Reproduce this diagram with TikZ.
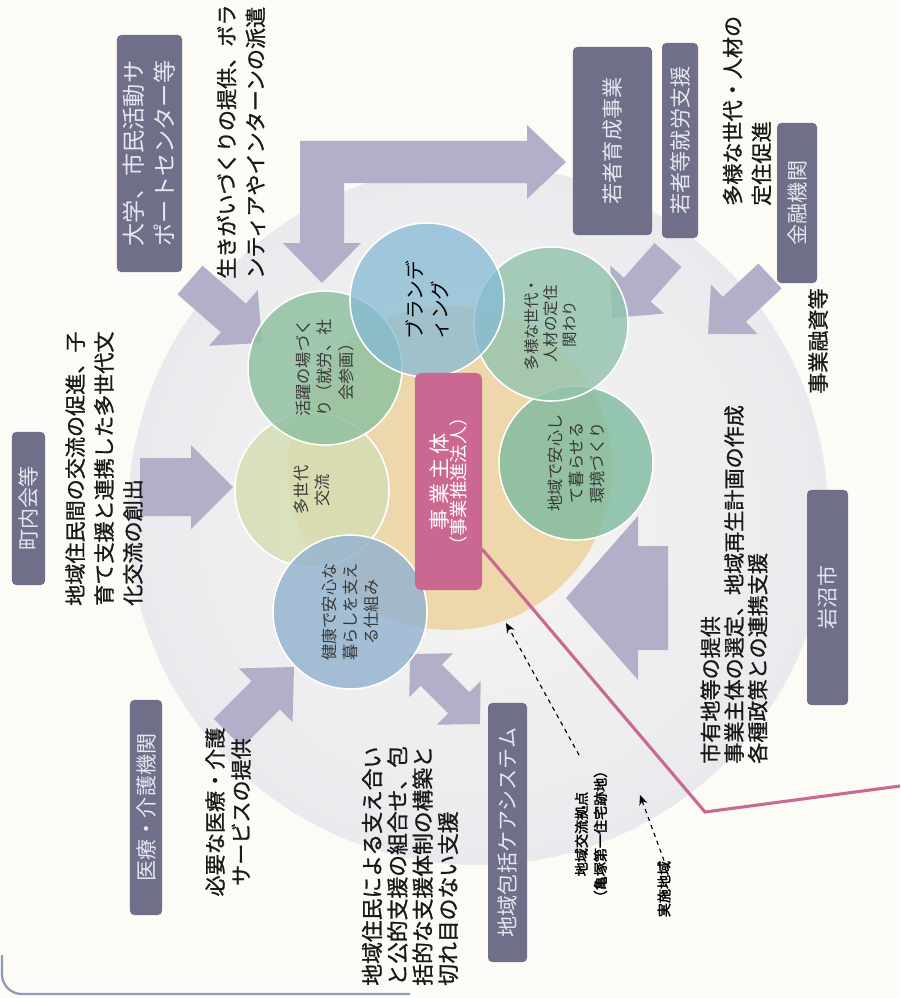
\documentclass[tikz,border=0pt]{standalone}
\usepackage{fontspec}
\setmainfont{Noto Sans CJK JP}
\newfontfamily\jpb{Noto Sans CJK JP}[FakeBold=1]
\newfontfamily\jpbb{Noto Sans CJK JP}[FakeBold=2.2]
\usetikzlibrary{arrows.meta,calc}
\definecolor{pagebg}{HTML}{FCFBF6}
\definecolor{haloin}{HTML}{F7F6F3}
\definecolor{haloout}{HTML}{EAE9ED}
\definecolor{boxc}{HTML}{6F6F8A}
\definecolor{boxtxt}{HTML}{E6E6EE}
\definecolor{arrowc}{HTML}{B2B0C8}
\definecolor{pinkc}{HTML}{CB6892}
\definecolor{beigec}{HTML}{EFD7AC}
\definecolor{cblue}{HTML}{86BAD4}
\definecolor{cgreenA}{HTML}{8EC0A0}
\definecolor{cgreenB}{HTML}{94C4AE}
\definecolor{cgreenC}{HTML}{80BCA0}
\definecolor{cyg}{HTML}{D5DEB2}
\definecolor{ckenko}{HTML}{93B3D0}
\definecolor{linec}{HTML}{C96890}
\definecolor{borderc}{HTML}{8B9BB8}
% block arrow: tail (#1,#2), tip (#3,#4), shaft half-width #5, head half-width #6, head length #7
\newcommand\blkarrow[7]{%
  \pgfmathsetmacro\AXdx{#3-(#1)}%
  \pgfmathsetmacro\AXdy{#4-(#2)}%
  \pgfmathsetmacro\AXl{veclen(\AXdx,\AXdy)}%
  \pgfmathsetmacro\AXux{\AXdx/\AXl}%
  \pgfmathsetmacro\AXuy{\AXdy/\AXl}%
  \pgfmathsetmacro\AXbx{#3-#7*\AXux}%
  \pgfmathsetmacro\AXby{#4-#7*\AXuy}%
  \fill[arrowc] ({#1-#5*\AXuy},{#2+#5*\AXux}) -- ({\AXbx-#5*\AXuy},{\AXby+#5*\AXux})
    -- ({\AXbx-#6*\AXuy},{\AXby+#6*\AXux}) -- (#3,#4)
    -- ({\AXbx+#6*\AXuy},{\AXby-#6*\AXux}) -- ({\AXbx+#5*\AXuy},{\AXby-#5*\AXux})
    -- ({#1+#5*\AXuy},{#2-#5*\AXux}) -- cycle;}
% double-headed block arrow
\newcommand\dblarrow[7]{%
  \pgfmathsetmacro\AXdx{#3-(#1)}%
  \pgfmathsetmacro\AXdy{#4-(#2)}%
  \pgfmathsetmacro\AXl{veclen(\AXdx,\AXdy)}%
  \pgfmathsetmacro\AXux{\AXdx/\AXl}%
  \pgfmathsetmacro\AXuy{\AXdy/\AXl}%
  \pgfmathsetmacro\AXax{#1+#7*\AXux}%
  \pgfmathsetmacro\AXay{#2+#7*\AXuy}%
  \pgfmathsetmacro\AXbx{#3-#7*\AXux}%
  \pgfmathsetmacro\AXby{#4-#7*\AXuy}%
  \fill[arrowc] (#1,#2) -- ({\AXax-#6*\AXuy},{\AXay+#6*\AXux}) -- ({\AXax-#5*\AXuy},{\AXay+#5*\AXux})
    -- ({\AXbx-#5*\AXuy},{\AXby+#5*\AXux}) -- ({\AXbx-#6*\AXuy},{\AXby+#6*\AXux}) -- (#3,#4)
    -- ({\AXbx+#6*\AXuy},{\AXby-#6*\AXux}) -- ({\AXbx+#5*\AXuy},{\AXby-#5*\AXux})
    -- ({\AXax+#5*\AXuy},{\AXay-#5*\AXux}) -- ({\AXax+#6*\AXuy},{\AXay-#6*\AXux}) -- cycle;}
\begin{document}
\begin{tikzpicture}[x=0.025cm,y=-0.025cm,
  lab/.style={rotate=90, inner sep=0, text=black!90, align=left, font=\jpb\fontsize{15}{20.5}\selectfont},
  dbox/.style={rotate=90, fill=boxc, rounded corners=3pt, inner sep=0, text=boxtxt, align=center, font=\fontsize{15}{19}\selectfont},
  circ/.style={circle, draw=white, line width=1.1pt, inner sep=0, minimum size=3.85cm, fill opacity=0.82, text opacity=1, rotate=90, align=center, text=black!78, font=\fontsize{11.5}{15}\selectfont},
  smallb/.style={rotate=90, inner sep=0, align=center, text=black, font=\jpbb\fontsize{10}{13.5}\selectfont},
  dasharr/.style={draw=black, line width=0.8pt, dashed, -{Stealth[length=7pt,width=6pt]}},
]
\fill[pagebg] (0,0) rectangle (900,998);
\useasboundingbox (0,0) rectangle (900,998);
% page edge
\draw[borderc, line width=1.6pt, rounded corners=14pt] (2,955) -- (2,994) -- (410,994);
% halo
\shade[inner color=haloin, outer color=haloout] (478,515) circle[radius=350];
% block arrows
\fill[arrowc] (322,283) -- (361,243) -- (344,243) -- (344,183) -- (527,183) -- (527,199) -- (566,162)
  -- (527,125) -- (527,141) -- (300,141) -- (300,243) -- (283,243) -- cycle;
\blkarrow{190}{280}{262}{343}{19}{37}{38}
\blkarrow{668}{255}{612}{318}{18}{36}{38}
\blkarrow{770}{276}{708}{334}{17}{34}{36}
\blkarrow{140}{487}{233}{487}{29}{42}{42}
\blkarrow{228}{733}{294}{667}{20}{38}{40}
\dblarrow{410}{654}{480}{724}{15}{31}{30}
\blkarrow{668}{598}{566}{598}{52}{82}{72}
% core
\fill[beigec] (450,468) circle[radius=162];
\node[circ, fill=cyg] (tasedai) at (312,490) {多世代\\交流};
\node[circ, fill=cgreenA] (katsu) at (325,368) {活躍の場づく\\り（就労、社\\会参画）};
\node[circ, fill=ckenko] (kenko) at (350,612) {健康で安心な\\暮らしを支え\\る仕組み};
\node[circ, fill=cgreenC] (anshin) at (576,463) {地域で安心し\\て暮らせる\\環境づくり};
\node[circ, fill=cgreenB, font=\fontsize{11}{13.5}\selectfont] (tayou) at (551,324) {多様な世代・\\人材の定住\\関わり};
\node[circ, fill=cblue, fill opacity=0.75, text=black, align=left, font=\fontsize{14}{18}\selectfont] (brand) at (427,300) {ブランデ\\ィング};
% main body
\node[rotate=90, fill=pinkc, rounded corners=4pt, inner sep=0, minimum width=5.425cm, minimum height=1.675cm, text=white, align=center] (jigyo) at (448.5,481.5)
  {{\fontsize{15}{20}\selectfont 事\hspace{3pt}業\hspace{3pt}主\hspace{3pt}体}\\{\fontsize{13}{17}\selectfont （事業推進法人）}};
\coordinate (jigyoP) at (482,549);
\coordinate (lineA) at (705,812);
\coordinate (lineB) at (900,786);
\draw[linec, line width=2.2pt] (jigyoP) -- (lineA) -- (lineB);
% dark boxes
\node[dbox, minimum width=3.825cm, minimum height=0.825cm] (chonai) at (28.5,508.5) {町内会等};
\node[dbox, minimum width=5.925cm, minimum height=1.625cm, align=left, font=\fontsize{16.5}{22}\selectfont] (daigaku) at (149.5,153.5) {大学、市民活動サ\\ポートセンター等};
\node[dbox, minimum width=4.7cm, minimum height=1.975cm] (ikusei) at (612.5,141) {若者育成事業};
\node[dbox, minimum width=4.875cm, minimum height=0.9cm] (shuro) at (680,140.5) {若者等就労支援};
\node[dbox, minimum width=4.0cm, minimum height=1.0cm] (kinyu) at (797,203) {金融機関};
\node[dbox, minimum width=5.375cm, minimum height=1.025cm] (iwanuma) at (827.5,597.5) {岩沼市};
\node[dbox, minimum width=5.375cm, minimum height=0.8cm] (iryo) at (146,807.5) {医療・介護機関};
\node[dbox, minimum width=6.475cm, minimum height=0.975cm] (houkatsu) at (507.5,832.5) {地域包括ケアシステム};
% labels
\node[lab, anchor=west] (ikigai) at (241,279) {生きがいづくりの提供、ボラ\\ンティアやインターンの派遣};
\node[lab, anchor=west] (kouryu) at (104,606) {地域住民間の交流の促進、子\\育て支援と連携した多世代文\\化交流の創出};
\node[lab, align=center, font=\jpb\fontsize{15}{18.5}\selectfont] (iryoL) at (228,812) {必要な医療・介護\\サービスの提供};
\node[lab, anchor=west] (teiju) at (747,206) {多様な世代・人材の\\定住促進};
\node[lab] (yushi) at (818,341) {事業融資等};
\node[lab, anchor=west, font=\jpb\fontsize{15}{16.8}\selectfont] (shiyu) at (734,764) {市有地等の提供\\事業主体の選定、地域再生計画の作成\\各種政策との連携支援};
\node[lab, anchor=west, font=\jpb\fontsize{15.5}{18}\selectfont] (sasae) at (410,986) {地域住民による支え合い\\と公的支援の組合せ、包\\括的な支援体制の構築と\\切れ目のない支援};
% small labels and dashed arrows
\node[smallb] (kyoten) at (591,834) {地域交流拠点\\（亀塚第一住宅跡地）};
\node[smallb] (jisshi) at (664,889) {実施地域};
\coordinate (kyotenFrom) at (579,755);
\coordinate (kyotenTip) at (506,623);
\coordinate (jisshiTip) at (640,795);
\draw[dasharr] (kyotenFrom) -- (kyotenTip);
\draw[dasharr] (jisshi.east) -- (jisshiTip);
\end{tikzpicture}
\end{document}
